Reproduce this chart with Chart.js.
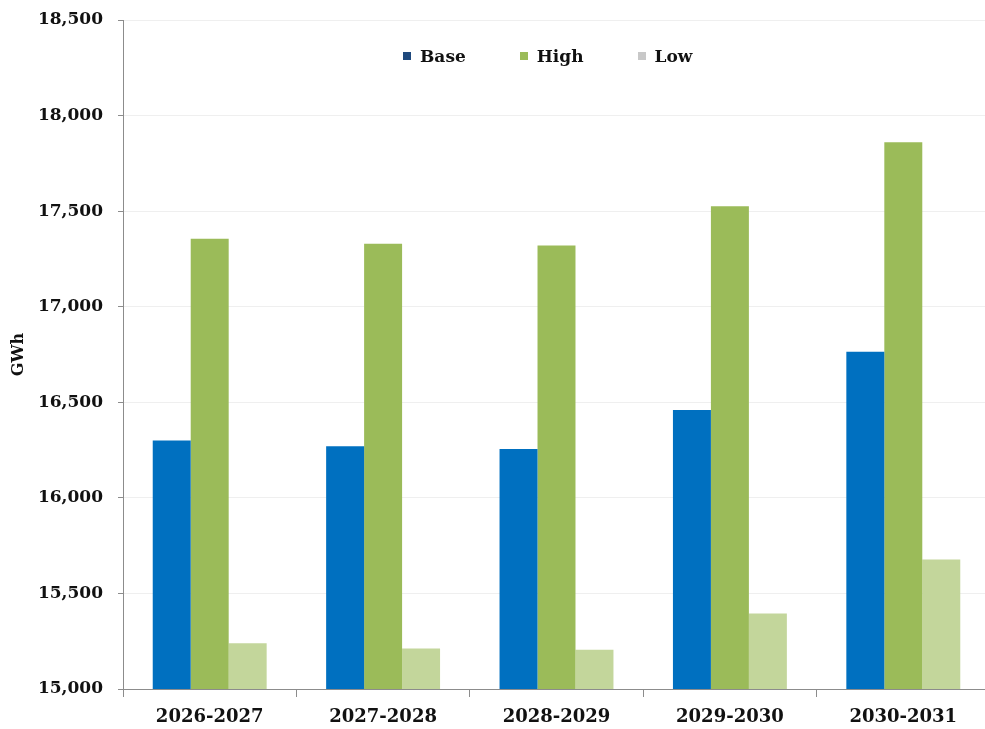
<!DOCTYPE html>
<html>
<head>
<meta charset="utf-8">
<script src="https://cdn.jsdelivr.net/npm/chart.js@4/dist/chart.umd.min.js"></script>
<style>
  html, body { margin: 0; padding: 0; background: #ffffff; overflow: hidden; }
  #wrap { position: relative; width: 985px; height: 729px; overflow: hidden; }
  #legend { position: absolute; left: 403px; top: 46px; display: flex; align-items: center; gap: 54px;
            font-family: 'DejaVu Serif', serif; font-weight: bold; font-size: 17px; color: #111; }
  #legend .item { display: flex; align-items: center; gap: 9px; }
  #legend .box { width: 8px; height: 8px; display: inline-block; }
</style>
</head>
<body>
<div id="wrap">
  <canvas id="c" width="990" height="729"></canvas>
  <div id="legend"></div>
</div>
<script>
const categories = ['2026-2027', '2027-2028', '2028-2029', '2029-2030', '2030-2031'];
const seriesNames = ['Base', 'High', 'Low'];
const baseValues = [16300, 16270, 16255, 16460, 16765];
const highValues = [17355, 17330, 17320, 17525, 17860];
const lowValues  = [15240, 15212, 15205, 15395, 15678];
const yTicks = [15000, 15500, 16000, 16500, 17000, 17500, 18000, 18500];
const colors = ['#0070C0', '#9BBB59', '#C3D69B'];
const legendColors = ['#1F497D', '#9BBB59', '#C8C8C8'];

const FONT = "'DejaVu Serif', serif";

const chart = new Chart(document.getElementById('c'), {
  type: 'bar',
  data: {
    labels: categories,
    datasets: [
      { label: seriesNames[0], data: baseValues, backgroundColor: colors[0] },
      { label: seriesNames[1], data: highValues, backgroundColor: colors[1] },
      { label: seriesNames[2], data: lowValues, backgroundColor: colors[2] }
    ]
  },
  options: {
    responsive: false,
    animation: false,
    layout: { padding: { left: 0, right: 0, top: 20, bottom: 0 } },
    datasets: { bar: { categoryPercentage: 0.657, barPercentage: 1.0 } },
    plugins: { legend: { display: false }, tooltip: { enabled: false } },
    scales: {
      x: {
        afterFit: (s) => { s.height = 40; s.paddingRight = 0; s.paddingLeft = 0; },
        grid: { offset: true, drawOnChartArea: false, drawTicks: true, tickLength: 8, tickColor: '#8c8c8c' },
        border: { display: true, color: '#8c8c8c', width: 1 },
        ticks: { color: '#111', padding: 10, font: { family: FONT, weight: 'bold', size: 18 } }
      },
      y: {
        min: yTicks[0],
        max: yTicks[yTicks.length - 1],
        afterFit: (s) => { s.width = 123; s.paddingTop = 0; s.paddingBottom = 0; },
        afterBuildTicks: (s) => { s.ticks = yTicks.map(v => ({ value: v })); },
        grid: { color: '#efefef', tickLength: 5, tickColor: '#8c8c8c' },
        border: { display: true, color: '#8c8c8c', width: 1 },
        ticks: {
          color: '#111', padding: 15,
          font: { family: FONT, weight: 'bold', size: 17 },
          callback: (v) => Number(v).toLocaleString('en-US')
        },
        title: { display: true, text: 'GWh', color: '#111', padding: { top: 9, bottom: 0 },
                 font: { family: FONT, weight: 'bold', size: 16 } }
      }
    }
  }
});

const legend = document.getElementById('legend');
chart.data.datasets.forEach((ds, i) => {
  const item = document.createElement('div');
  item.className = 'item';
  const box = document.createElement('span');
  box.className = 'box';
  box.style.background = legendColors[i];
  const txt = document.createElement('span');
  txt.textContent = ds.label;
  item.appendChild(box);
  item.appendChild(txt);
  legend.appendChild(item);
});
</script>
</body>
</html>
